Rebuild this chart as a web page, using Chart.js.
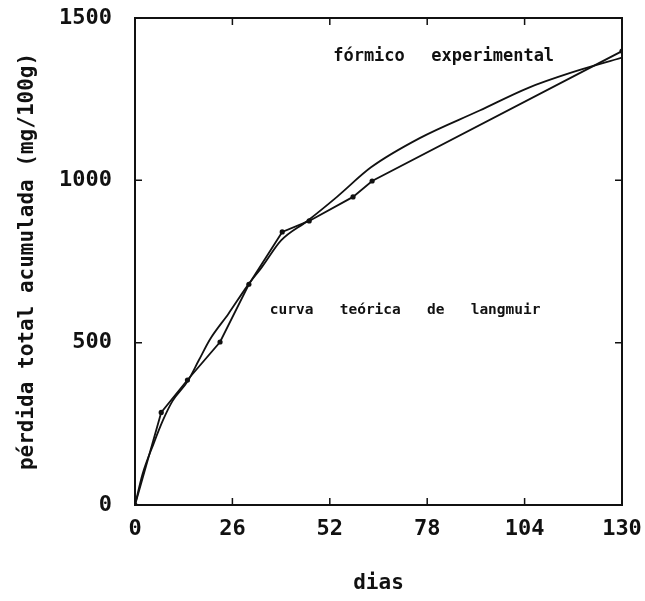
<!DOCTYPE html>
<html>
<head>
<meta charset="utf-8">
<script src="https://cdn.jsdelivr.net/npm/chart.js@4.4.1/dist/chart.umd.min.js"></script>
<style>
  html, body { margin: 0; padding: 0; background: #fff; }
  #wrap { width: 645px; height: 601px; }
</style>
</head>
<body>
<div id="wrap"><canvas id="chart"></canvas></div>
<script>
// measured cumulative loss, formic acid treatment
const expDays = [0, 7, 14, 22.7, 30.4, 39.3, 46.5, 58.2, 63.3, 130];
const expLoss = [0, 285, 385, 502, 680, 841, 875, 949, 998, 1398];

// Langmuir fit, sampled along the curve
const langDays = [0, 2, 5, 7.5, 10, 14, 17, 20, 25, 30, 34, 39, 46, 54, 63, 76, 92, 105, 116, 130];
const langLoss = [0, 95, 190, 262, 320, 380, 445, 510, 590, 675, 735, 815, 875, 950, 1040, 1130, 1215, 1285, 1330, 1378];

const xTicks = [0, 26, 52, 78, 104, 130];
const yTicks = [0, 500, 1000, 1500];

// text labels placed in data units: [day, loss, text, font size, word spacing]
const notes = [
  [52.9, 1380, 'fórmico  experimental', 17, 3],
  [36, 600, 'curva   teórica   de   langmuir', 14.5, 0]
];

const INK = '#111';
const MONO = '"DejaVu Sans Mono", "Liberation Mono", monospace';

const toXY = (xs, ys) => xs.map((x, i) => ({ x, y: ys[i] }));

// frame + inward tick marks on all four sides, plus the text notes
const framePlugin = {
  id: 'frame',
  afterDatasetsDraw(chart) {
    const { ctx, chartArea: a, scales: { x, y } } = chart;
    ctx.save();
    ctx.strokeStyle = INK;
    ctx.lineWidth = 2;
    ctx.strokeRect(a.left, a.top, a.right - a.left, a.bottom - a.top);
    ctx.lineWidth = 1.5;
    ctx.beginPath();
    xTicks.forEach(v => {
      const px = x.getPixelForValue(v);
      ctx.moveTo(px, a.bottom); ctx.lineTo(px, a.bottom - 7);
      ctx.moveTo(px, a.top); ctx.lineTo(px, a.top + 7);
    });
    yTicks.forEach(v => {
      const py = y.getPixelForValue(v);
      ctx.moveTo(a.left, py); ctx.lineTo(a.left + 7, py);
      ctx.moveTo(a.right, py); ctx.lineTo(a.right - 7, py);
    });
    ctx.stroke();

    ctx.fillStyle = INK;
    ctx.textBaseline = 'middle';
    ctx.textAlign = 'left';
    notes.forEach(([d, v, t, size, gap]) => {
      ctx.font = `bold ${size}px ${MONO}`;
      ctx.wordSpacing = gap + 'px';
      ctx.fillText(t, x.getPixelForValue(d), y.getPixelForValue(v));
    });
    ctx.restore();
  }
};

const tickFont = { family: MONO, size: 22, weight: 'bold' };

new Chart(document.getElementById('chart'), {
  type: 'line',
  data: {
    datasets: [
      {
        label: 'experimental',
        data: toXY(expDays, expLoss),
        borderColor: INK, backgroundColor: INK,
        borderWidth: 1.8, tension: 0,
        pointRadius: 2.6, pointBackgroundColor: INK, pointBorderWidth: 0
      },
      {
        label: 'langmuir',
        data: toXY(langDays, langLoss),
        borderColor: INK,
        borderWidth: 1.8, tension: 0.4, cubicInterpolationMode: 'monotone',
        pointRadius: 0
      }
    ]
  },
  options: {
    responsive: true,
    maintainAspectRatio: false,
    animation: false,
    layout: { padding: { top: 18, right: 23, left: 0, bottom: 0 } },
    plugins: { legend: { display: false }, tooltip: { enabled: false } },
    scales: {
      x: {
        type: 'linear', min: 0, max: 130,
        afterBuildTicks: s => { s.ticks = xTicks.map(v => ({ value: v })); },
        afterFit: s => { s.height = 96; s.paddingLeft = 0; s.paddingRight = 0; },
        grid: { display: false, drawTicks: false },
        border: { display: false },
        ticks: { color: INK, padding: 11, font: tickFont, callback: v => String(v) },
        title: { display: true, text: 'dias', color: INK, padding: { top: 4, bottom: 5 },
          font: { family: MONO, size: 21, weight: 'bold' } }
      },
      y: {
        type: 'linear', min: 0, max: 1500,
        afterBuildTicks: s => { s.ticks = yTicks.map(v => ({ value: v })); },
        afterFit: s => { s.width = 135; s.paddingTop = 0; s.paddingBottom = 0; },
        grid: { display: false, drawTicks: false },
        border: { display: false },
        ticks: { color: INK, padding: 23, font: tickFont, callback: v => String(v) },
        title: { display: true, text: 'pérdida total acumulada (mg/100g)', color: INK,
          padding: { top: 15, bottom: 0 },
          font: { family: MONO, size: 21, weight: 'bold' } }
      }
    }
  },
  plugins: [framePlugin]
});
</script>
</body>
</html>
